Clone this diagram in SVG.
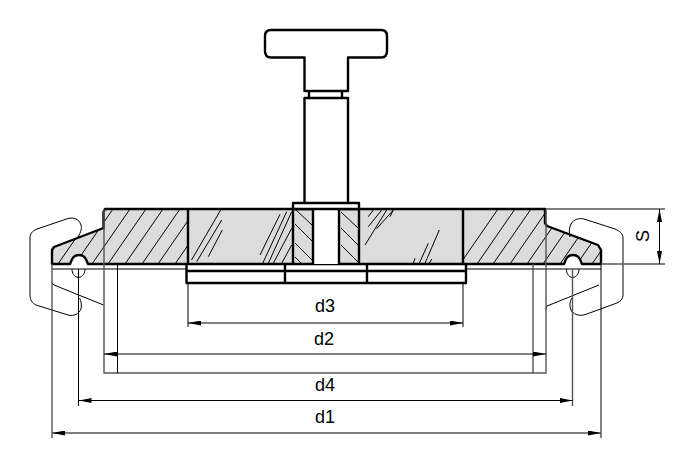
<svg xmlns="http://www.w3.org/2000/svg" width="691" height="465" viewBox="0 0 691 465">
<style>
.thk{fill:none;stroke:#000;stroke-width:2.4;stroke-linejoin:round}
.thn{fill:none;stroke:#000;stroke-width:1}
.gry{fill:none;stroke:#555;stroke-width:1.4}
.cut{fill:#dcdcdc;stroke:none}
.wht{fill:#fff;stroke:none}
text{font-family:"Liberation Sans",Arial,sans-serif;font-size:18px;fill:#000;text-anchor:middle}
</style>
<defs>
<marker id="a" viewBox="0 0 13 5" refX="13" refY="2.500" markerWidth="13" markerHeight="5" markerUnits="userSpaceOnUse" orient="auto-start-reverse"><path d="M13 2.500L0 0V5Z" fill="#000"/></marker>
<clipPath id="cl"><path d="M105 209H188V264H88C86 258 84 255 79 255C74 255 72 258 70 264H52V250L54 247L103.500 228V212Z"/></clipPath>
<clipPath id="cr"><path d="M463 209H545V226L598 245L601 250V264H582C580 258 578 255 573 255C568 255 566 258 564 264H463Z"/></clipPath>
</defs>
<g id="body">
<path class="cut" d="M105 209H545L546 226L598 245L601 250V264H582C580 258 578 255 573 255C568 255 566 258 564 264H88C86 258 84 255 79 255C74 255 72 258 70 264H52V250L54 247L103.500 228V212Z"/>
<g class="thn" clip-path="url(#cl)">
<path d="M58 264L96 209M75 264L113 209M92 264L130 209M108 264L146 209M125 264L163 209M142 264L180 209M158 264L196 209M175 264L213 209"/>
</g>
<g class="thn" clip-path="url(#cr)">
<path d="M460 264L498 209M477 264L515 209M493 264L531 209M510 264L548 209M527 264L565 209M543 264L581 209M560 264L598 209M577 264L615 209M592 264L630 209"/>
</g>
<path class="thk" d="M188 209H105L103.500 212V228L54 247L52 250V264H70C72 258 74 255 79 255C84 255 86 258 88 264H564C566 258 568 255 573 255C578 255 580 258 582 264H601V250L598 245L547 226L545 223V209H188"/>
<path class="thk" d="M188 209V264M463 209V264"/>
</g>
<g id="glass" class="thn">
<path d="M191.500 260L220.700 210M196.700 261.700L221.700 220M208.300 256.700L222.300 230M260 255L280 214.300M262.700 263.300L286.700 211.700M268.300 263.300L291.700 211.700M273.300 263.300L291.700 228.300M281.700 263.300L291.700 245M368.300 216.700L373.300 210M368.300 226.700L381.700 210M376.700 228.700L393.300 210M365 245L386.700 210M390 216.700L393.300 210M413.300 263.300L415 258.300M419.300 263.300L428.300 243.300M425 263.300L439.300 230M429.300 263.300L431.700 259"/>
</g>
<g id="knob">
<path class="thk" d="M271 30H381Q387 30 387 36V51Q387 57.500 381 57.500H348V91H304.500V57.500H271Q265 57.500 265 51V36Q265 30 271 30Z"/>
<path class="thk" d="M309 91V98M342 91V98"/>
<path class="thn" d="M309 97.500H342"/>
<path class="thk" d="M304.500 203V98H348V203"/>
</g>
<g id="collar">
<path class="wht" d="M293 203H359V209H293ZM313 209H339V264H313Z"/>
<path class="thn" d="M295 209L312 225M295 224L312 241M295 243L312 260M302 264L295 257M341 212L358 228M341 228L358 245M341 245L358 262"/>
<path class="thk" d="M293 264V203H359V264M293 209H359M313 209V264M339 209V264"/>
</g>
<g id="plate">
<path class="thk" d="M186.500 271H466M186.500 264V283H466V264M285 264V283M367 264V283"/>
</g>
<g id="clips">
<path class="thn" d="M78 237C81 232 82 228 81 225C79 219 74 217 68 218.500L37 229C32 231 30 234 30 238V295C30 300 32 303 36 305L68 315C74 316.500 79 314 81 309C82 305 81 301 79.500 298"/>
<path class="thn" d="M52 283L54 285L103.500 305"/>
<path class="thn" d="M570 237C569 232 569 228 571 224C574 219 579 218 584 219L615 229C620 231 623 234 623 238V295C623 299 621 301 617 303L584 315C578 316 573 314 571 310C569 305 570 301 572 298"/>
<path class="thn" d="M599 285L547 306L546 309"/>
<path class="thn" d="M72 269C72 273 74 277 78.500 277.500C83 277 85 273 85 269M566.500 269C566.500 273 568 277 572.500 277.500C577 277 579 273 579 269"/>
</g>
<g id="connectors">
<path class="thn" d="M52 269H186M466 269H601"/>
<path class="gry" d="M52 264V438M572.500 269V406M104 209V373H546V209M533 264V373"/>
<path class="thn" d="M601 264V438M78.500 269V406M117.500 264V373M188 283V327M463 283V327"/>
<path class="gry" d="M546 209H665M601 264H665"/>
<path class="thn" d="M188 323H463" marker-start="url(#a)" marker-end="url(#a)"/>
<path class="thn" d="M104 354H546" marker-start="url(#a)" marker-end="url(#a)"/>
<path class="thn" d="M78.500 400.500H572.500" marker-start="url(#a)" marker-end="url(#a)"/>
<path class="gry" d="M52 433H601" marker-start="url(#a)" marker-end="url(#a)"/>
<path class="thn" d="M659.500 209V264" marker-start="url(#a)" marker-end="url(#a)"/>
</g>
<g id="labels">
<text x="325" y="312">d3</text>
<text x="324" y="345">d2</text>
<text x="325" y="391">d4</text>
<text x="325" y="423">d1</text>
<text transform="translate(649 236) rotate(-90)">S</text>
</g>
</svg>
